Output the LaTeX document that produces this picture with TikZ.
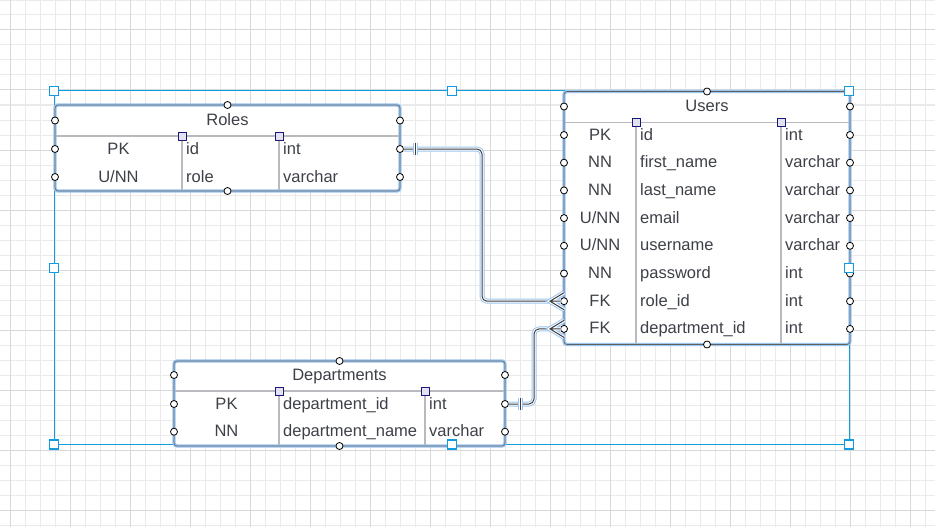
\documentclass[tikz,border=0pt]{standalone}
\usepackage{fontspec}
\setmainfont{Liberation Sans}
\definecolor{ercolor0001}{RGB}{234,234,234}
\definecolor{ercolor0002}{RGB}{216,216,216}
\definecolor{ercolor0003}{RGB}{16,156,222}
\definecolor{ercolor0004}{RGB}{156,198,242}
\definecolor{ercolor0005}{RGB}{96,96,96}
\definecolor{ercolor0006}{RGB}{186,186,190}
\definecolor{ercolor0007}{RGB}{62,64,72}
\definecolor{ercolor0008}{RGB}{226,226,242}
\definecolor{ercolor0009}{RGB}{24,24,120}
\definecolor{ercolor0010}{RGB}{60,60,60}
\begin{document}
\begin{tikzpicture}[x=1pt,y=-1pt
,font=\fontsize{16.5}{19}\selectfont
,erstyle0/.style={draw=ercolor0001,line width=1pt}
,erstyle1/.style={draw=ercolor0002,line width=1pt}
,erstyle2/.style={draw=ercolor0003,line width=1pt}
,erstyle3/.style={rectangle,draw=ercolor0003,fill=white,line width=1.2pt,minimum size=9pt,inner sep=0}
,erstyle4/.style={rectangle,rounded corners=3pt,draw=ercolor0005,line width=0.6pt,inner sep=0,preaction={fill=white,draw=ercolor0004,line width=3.4pt}}
,erstyle5/.style={draw=ercolor0006,line width=1.6pt}
,erstyle6/.style={anchor=base west,inner sep=0,text=ercolor0007}
,erstyle7/.style={anchor=base,inner sep=0,text=ercolor0007}
,erstyle8/.style={circle,draw=black,fill=white,line width=0.8pt,minimum size=7pt,inner sep=0}
,erstyle9/.style={rectangle,draw=ercolor0009,fill=ercolor0008,line width=1pt,minimum size=8pt,inner sep=0}
,erstyle10/.style={draw=ercolor0010,line width=1pt,preaction={draw=ercolor0004,line width=5pt},preaction={draw=white,line width=3pt}}
]
\useasboundingbox[fill=white] (0,0) rectangle (935,527);
\begin{scope}[xshift=10pt]
\draw[erstyle0,step=15pt] (-10,0) grid (925,527);
\end{scope}
\begin{scope}[shift={(10,30)}]
\draw[erstyle1,step=60pt] (-10,-30) grid (925,497);
\end{scope}
\draw[erstyle2] (54,91) rectangle (849,444.5);
\node[erstyle4,minimum width=345pt,minimum height=86pt] (roles) at (227.5,148) {};
\node[erstyle4,minimum width=286pt,minimum height=253pt] (users) at (707,218) {};
\node[erstyle4,minimum width=331pt,minimum height=85pt] (depts) at (339.5,403.5) {};
\draw[erstyle5] (56,136) -- (399,136);
\draw[erstyle5] (182,136) -- (182,190);
\draw[erstyle5] (279,136) -- (279,190);
\draw[erstyle5] (565,122.3) -- (849,122.3);
\draw[erstyle5] (636,122.3) -- (636,343.5);
\draw[erstyle5] (781,122.3) -- (781,343.5);
\draw[erstyle5] (175,391) -- (504,391);
\draw[erstyle5] (279,391) -- (279,445);
\draw[erstyle5] (425,391) -- (425,445);
\node[erstyle7] (rolesT) at (227.5,125.5) {Roles};
\node[erstyle7] (rolesK1) at (118.5,154) {PK};
\node[erstyle6] (rolesF1) at (186,154) {id};
\node[erstyle6] (rolesY1) at (283,154) {int};
\node[erstyle7] (rolesK2) at (118.5,182) {U/NN};
\node[erstyle6] (rolesF2) at (186,182) {role};
\node[erstyle6] (rolesY2) at (283,182) {varchar};
\node[erstyle7] (usersT) at (707,111.5) {Users};
\node[erstyle7] (usersK1) at (600,140) {PK};
\node[erstyle6] (usersF1) at (640,140) {id};
\node[erstyle6] (usersY1) at (785,140) {int};
\node[erstyle7] (usersK2) at (600,167.7) {NN};
\node[erstyle6] (usersF2) at (640,167.7) {first\_name};
\node[erstyle6] (usersY2) at (785,167.7) {varchar};
\node[erstyle7] (usersK3) at (600,195.4) {NN};
\node[erstyle6] (usersF3) at (640,195.4) {last\_name};
\node[erstyle6] (usersY3) at (785,195.4) {varchar};
\node[erstyle7] (usersK4) at (600,223.1) {U/NN};
\node[erstyle6] (usersF4) at (640,223.1) {email};
\node[erstyle6] (usersY4) at (785,223.1) {varchar};
\node[erstyle7] (usersK5) at (600,250.8) {U/NN};
\node[erstyle6] (usersF5) at (640,250.8) {username};
\node[erstyle6] (usersY5) at (785,250.8) {varchar};
\node[erstyle7] (usersK6) at (600,278.5) {NN};
\node[erstyle6] (usersF6) at (640,278.5) {password};
\node[erstyle6] (usersY6) at (785,278.5) {int};
\node[erstyle7] (usersK7) at (600,306.2) {FK};
\node[erstyle6] (usersF7) at (640,306.2) {role\_id};
\node[erstyle6] (usersY7) at (785,306.2) {int};
\node[erstyle7] (usersK8) at (600,333.9) {FK};
\node[erstyle6] (usersF8) at (640,333.9) {department\_id};
\node[erstyle6] (usersY8) at (785,333.9) {int};
\node[erstyle7] (deptsT) at (339.5,380) {Departments};
\node[erstyle7] (deptsK1) at (226.5,409) {PK};
\node[erstyle6] (deptsF1) at (283,409) {department\_id};
\node[erstyle6] (deptsY1) at (429,409) {int};
\node[erstyle7] (deptsK2) at (226.5,436.7) {NN};
\node[erstyle6] (deptsF2) at (283,436.7) {department\_name};
\node[erstyle6] (deptsY2) at (429,436.7) {varchar};
\node[erstyle8] (rolesW0) at (55,120.5) {};
\node[erstyle8] (rolesW1) at (55,149) {};
\node[erstyle8] (rolesW2) at (55,177) {};
\node[erstyle8] (rolesE0) at (400,120.5) {};
\node[erstyle8] (rolesE1) at (400,149) {};
\node[erstyle8] (rolesE2) at (400,177) {};
\node[erstyle8] (rolesN) at (227.5,105) {};
\node[erstyle8] (rolesS) at (227.5,191) {};
\node[erstyle8] (usersW0) at (564,106.5) {};
\node[erstyle8] (usersW1) at (564,135) {};
\node[erstyle8] (usersW2) at (564,162.7) {};
\node[erstyle8] (usersW3) at (564,190.4) {};
\node[erstyle8] (usersW4) at (564,218.1) {};
\node[erstyle8] (usersW5) at (564,245.8) {};
\node[erstyle8] (usersW6) at (564,273.5) {};
\node[erstyle8] (usersW7) at (564,301.2) {};
\node[erstyle8] (usersW8) at (564,328.9) {};
\node[erstyle8] (usersE0) at (850,106.5) {};
\node[erstyle8] (usersE1) at (850,135) {};
\node[erstyle8] (usersE2) at (850,162.7) {};
\node[erstyle8] (usersE3) at (850,190.4) {};
\node[erstyle8] (usersE4) at (850,218.1) {};
\node[erstyle8] (usersE5) at (850,245.8) {};
\node[erstyle8] (usersE6) at (850,273.5) {};
\node[erstyle8] (usersE7) at (850,301.2) {};
\node[erstyle8] (usersE8) at (850,328.9) {};
\node[erstyle8] (usersN) at (707,91.5) {};
\node[erstyle8] (usersS) at (707,344.5) {};
\node[erstyle8] (deptsW0) at (174,375) {};
\node[erstyle8] (deptsW1) at (174,404) {};
\node[erstyle8] (deptsW2) at (174,431.7) {};
\node[erstyle8] (deptsE0) at (505,375) {};
\node[erstyle8] (deptsE1) at (505,404) {};
\node[erstyle8] (deptsE2) at (505,431.7) {};
\node[erstyle8] (deptsN) at (339.5,361) {};
\node[erstyle8] (deptsS) at (339.5,446) {};
\coordinate (erbend0) at (482,149);
\coordinate (erbend1) at (534,404);
\draw[erstyle10,rounded corners=5pt] (rolesE1) -- (erbend0) |- (usersW7);
\draw[erstyle10,rounded corners=5pt] (deptsE1) -- (erbend1) |- (usersW8);
\draw[erstyle10] (rolesE1.center) ++(15,-6) -- ++(0,12);
\draw[erstyle10] (deptsE1.center) ++(15,-6) -- ++(0,12);
\draw[erstyle10] (usersW7.center) ++(0,-8.5) -- ++(-14,8.5) -- ++(14,8.5) ++(-14,-8.5) -- ++(10.5,0);
\draw[erstyle10] (usersW8.center) ++(0,-8.5) -- ++(-14,8.5) -- ++(14,8.5) ++(-14,-8.5) -- ++(10.5,0);
\node[erstyle9] (rolesH1) at (182,136) {};
\node[erstyle9] (rolesH2) at (279,136) {};
\node[erstyle9] (usersH1) at (636,122.3) {};
\node[erstyle9] (usersH2) at (781,122.3) {};
\node[erstyle9] (deptsH1) at (279,391) {};
\node[erstyle9] (deptsH2) at (425,391) {};
\node[erstyle3] (selNW) at (54,91) {};
\node[erstyle3] (selN) at (452,91) {};
\node[erstyle3] (selNE) at (849,91) {};
\node[erstyle3] (selW) at (54,268) {};
\node[erstyle3] (selE) at (849,268) {};
\node[erstyle3] (selSW) at (54,444.5) {};
\node[erstyle3] (selS) at (452,444.5) {};
\node[erstyle3] (selSE) at (849,444.5) {};
\end{tikzpicture}
\end{document}
